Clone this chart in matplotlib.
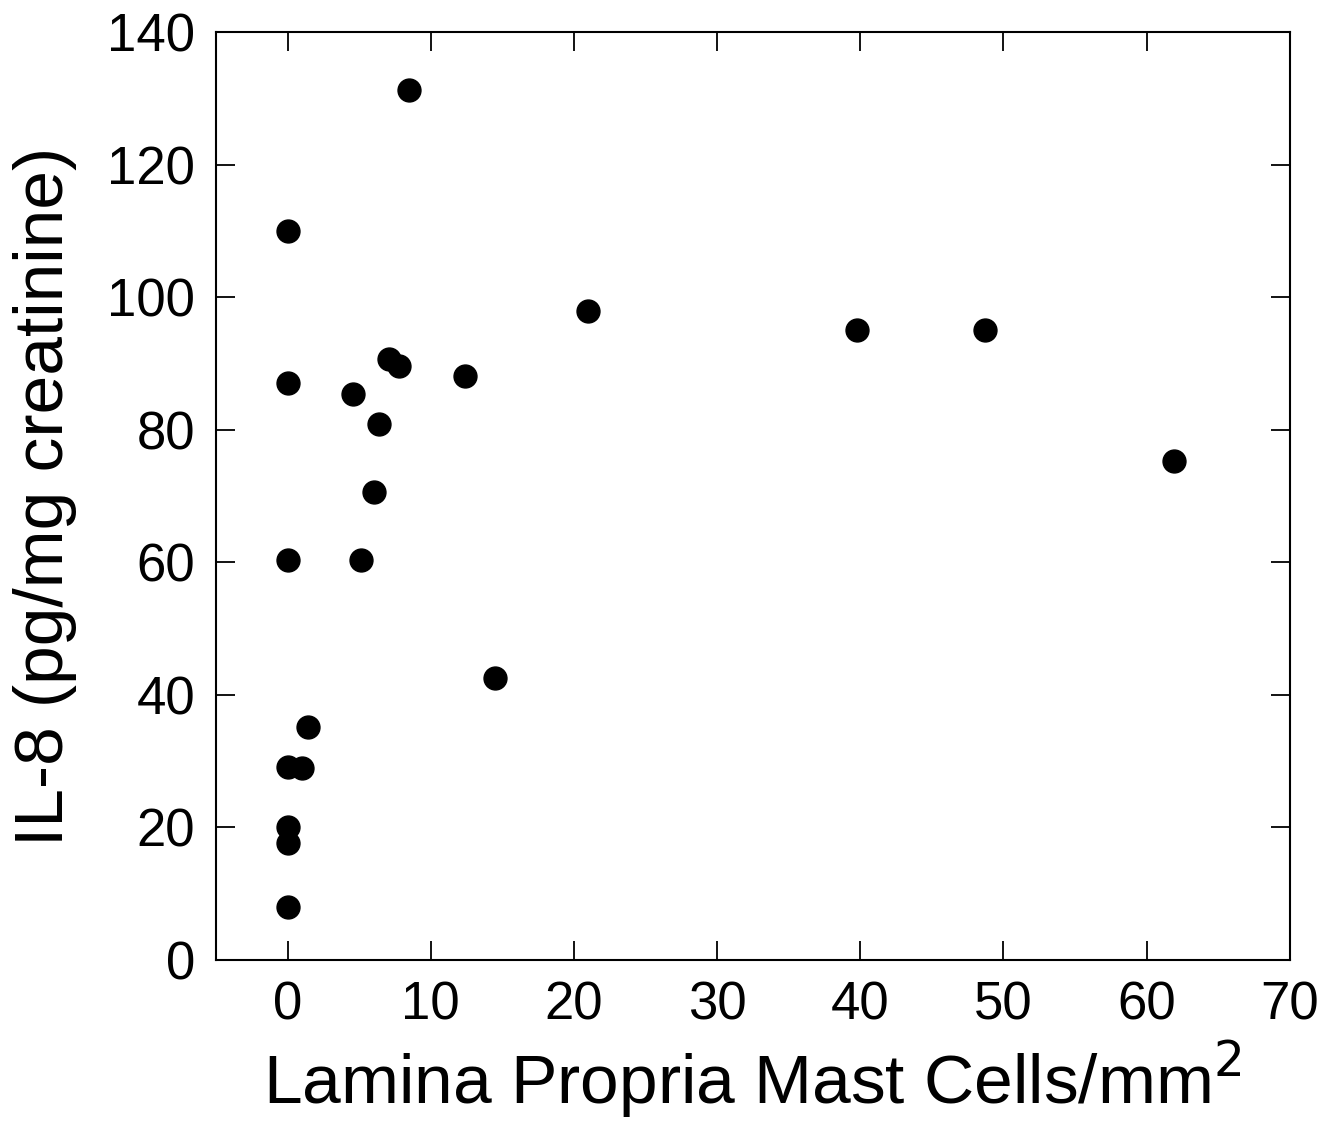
import matplotlib
matplotlib.use("Agg")
import matplotlib.pyplot as plt

# mast cell density (cells/mm^2) vs urinary IL-8
mast_cells = [8.5, 0.0, 0.0, 0.0, 0.0, 1.0, 1.4, 0.0, 0.0, 0.0,
              4.6, 5.1, 6.0, 6.35, 7.05, 7.8, 12.4, 14.5, 21.0, 39.8, 48.7, 61.9]
il8 = [131.2, 110.0, 87.0, 60.3, 29.1, 29.0, 35.1, 20.0, 17.6, 8.0,
       85.4, 60.3, 70.6, 80.8, 90.6, 89.6, 88.1, 42.5, 97.9, 95.0, 95.0, 75.3]

xticks = [0, 10, 20, 30, 40, 50, 60, 70]
yticks = [0, 20, 40, 60, 80, 100, 120, 140]

plt.rcParams["font.family"] = ["Liberation Sans", "DejaVu Sans"]

fig = plt.figure(figsize=(13.42, 11.26), dpi=100)
ax = fig.add_axes([0.161, 0.1474, 0.800, 0.8242])

ax.plot(mast_cells, il8, "o", color="black", ms=16.5, mec="black")

ax.set_xlim(-5, 70)
ax.set_ylim(0, 140)
ax.set_xticks(xticks)
ax.set_yticks(yticks)
ax.tick_params(direction="in", length=14, width=1.3, labelsize=38,
               top=True, right=True, pad=15)
for s in ax.spines.values():
    s.set_linewidth(1.5)

ax.set_xlabel("Lamina Propria Mast Cells/mm$^2$", fontsize=50, labelpad=6)
ax.set_ylabel("IL-8 (pg/mg creatinine)", fontsize=50, labelpad=22)

fig.savefig("out.png", dpi=100)
